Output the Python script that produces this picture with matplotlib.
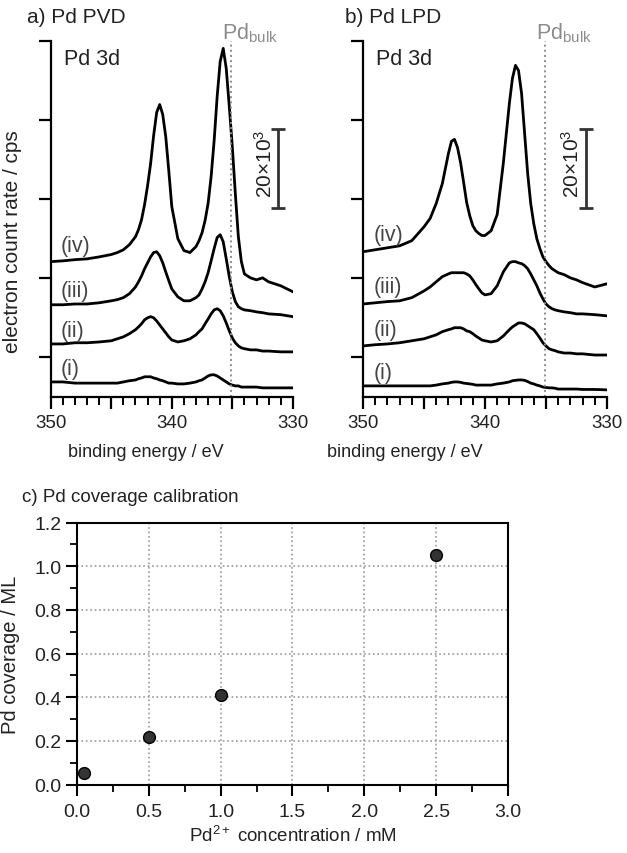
import matplotlib.pyplot as plt
from matplotlib.ticker import MultipleLocator, FuncFormatter, FormatStrFormatter

plt.rcParams['font.family'] = ['Liberation Sans', 'DejaVu Sans']
plt.rcParams['mathtext.fontset'] = 'custom'
plt.rcParams['mathtext.rm'] = 'Liberation Sans'
plt.rcParams['mathtext.it'] = 'Liberation Sans:italic'

c_text = "#222222"
c_label = "#444444"
c_bulk = "#8c8c8c"

# binding energy grid (eV) shared by all Pd 3d spectra
energy = [350, 349, 348, 347, 346, 345, 344.5, 344, 343.5, 343,
          342.75, 342.5, 342.25, 342, 341.75, 341.5, 341.25, 341, 340.75, 340.5, 340.25,
          340, 339.5, 339, 338.5, 338,
          337.75, 337.5, 337.25, 337, 336.75, 336.5, 336.25, 336, 335.75, 335.5, 335.25, 335,
          334.75, 334.5, 334.25,
          334, 333.5, 333, 332.5, 332, 331, 330]

# a) Pd PVD, electron count rate in 10^3 cps (curves offset as in the figure)
pvd_i = [3.8, 3.8, 3.5, 3.5, 3.5, 3.5, 3.5, 3.8, 4.1, 4.3,
         4.6, 4.8, 5.1, 5.1, 5.1, 4.8, 4.6, 4.3, 4.1, 3.8, 3.5,
         3.5, 3.3, 3.3, 3.5, 3.8,
         4.1, 4.3, 4.8, 5.3, 5.6, 5.6, 5.3, 4.8, 4.3, 3.8, 3.3, 3.0, 2.8, 2.8, 2.5,
         2.5, 2.5, 2.5, 2.3, 2.3, 2.3, 2.3]
pvd_ii = [13.4, 13.4, 13.7, 13.7, 13.9, 14.2, 14.7, 15.2, 16.0, 17.0,
          17.7, 18.5, 19.5, 20.0, 20.3, 20.0, 19.2, 18.2, 17.2, 16.2, 15.2,
          14.4, 13.9, 14.2, 14.7, 15.7,
          16.5, 17.2, 18.5, 19.7, 21.0, 22.0, 22.3, 21.8, 20.5, 18.7, 16.7, 14.9, 13.7, 12.9, 12.4,
          12.2, 11.9, 11.9, 11.6, 11.6, 11.4, 11.4]
pvd_iii = [23.3, 23.3, 23.5, 23.5, 23.8, 24.3, 24.6, 25.1, 26.1, 27.8,
           29.1, 30.6, 32.4, 33.9, 35.4, 36.5, 36.7, 35.7, 33.9, 31.6, 29.4,
           27.3, 25.3, 24.3, 24.3, 25.1,
           25.8, 27.3, 29.1, 31.4, 34.4, 37.5, 40.3, 41.0, 39.2, 34.9, 30.4, 26.6, 24.1, 22.8, 22.3,
           22.0, 21.8, 21.5, 21.3, 21.0, 20.8, 20.3]
pvd_iv = [34.2, 34.4, 34.7, 34.9, 35.4, 36.0, 36.5, 37.2, 38.5, 40.5,
          42.3, 44.8, 48.6, 53.4, 59.0, 66.1, 71.9, 73.9, 71.4, 65.8, 57.2,
          48.1, 40.0, 37.0, 36.5, 38.0,
          39.5, 41.5, 44.6, 48.9, 55.7, 64.8, 76.0, 84.8, 88.1, 83.0, 73.4, 63.3, 51.4, 40.5, 34.2,
          31.1, 30.1, 29.6, 30.1, 29.1, 28.1, 26.6]

# b) Pd LPD
lpd_i = [2.8, 2.8, 2.8, 2.8, 2.8, 2.8, 2.8, 3.0, 3.3, 3.5,
         3.7, 3.8, 3.8, 3.7, 3.5, 3.4, 3.3, 3.2, 3.0, 3.0, 3.0,
         3.0, 3.0, 3.3, 3.5, 3.8,
         4.1, 4.2, 4.3, 4.3, 4.2, 3.9, 3.5, 3.3, 3.0, 2.8, 2.5, 2.4, 2.3, 2.3, 2.2,
         2.0, 2.0, 2.0, 2.0, 1.9, 1.9, 1.8]
lpd_ii = [12.9, 13.2, 13.4, 13.7, 14.2, 14.7, 15.2, 15.7, 16.5, 17.0,
          17.2, 17.5, 17.5, 17.5, 17.2, 16.7, 16.5, 16.0, 15.4, 14.9, 14.4,
          14.2, 13.9, 14.2, 15.4, 17.0,
          17.7, 18.2, 18.7, 18.7, 18.5, 18.0, 17.5, 17.0, 16.0, 14.9, 13.7, 12.9, 12.2, 11.9, 11.7,
          11.4, 11.1, 11.1, 10.9, 10.9, 10.6, 10.6]
lpd_iii = [23.5, 23.8, 24.1, 24.3, 25.1, 26.8, 27.8, 29.1, 30.4, 31.1,
           31.4, 31.4, 31.4, 31.4, 31.4, 31.1, 30.6, 29.6, 28.4, 27.3, 26.3,
           25.8, 26.1, 28.1, 31.6, 33.9,
           34.2, 34.2, 33.9, 33.7, 33.2, 32.4, 31.1, 29.6, 28.1, 26.3, 24.8, 23.5, 22.8, 22.3, 22.0,
           21.8, 21.5, 21.3, 21.0, 21.0, 20.8, 20.5]
lpd_iv = [36.7, 37.2, 37.7, 38.2, 39.5, 43.0, 45.1, 48.9, 53.9, 61.5,
          64.6, 65.1, 63.0, 59.2, 54.2, 49.1, 45.8, 43.3, 42.0, 41.3, 40.8,
          40.8, 42.0, 46.1, 59.0, 74.2,
          80.5, 83.8, 82.5, 76.7, 66.6, 56.5, 48.9, 43.8, 40.0, 37.5, 35.4, 34.2, 33.2, 32.4, 31.9,
          31.4, 30.9, 30.1, 29.6, 28.9, 27.8, 28.6]

curve_names = ["(i)", "(ii)", "(iii)", "(iv)"]
pd_bulk = 335.1
scale_bar = 20  # 20x10^3 cps

# c) coverage calibration
conc = [0.05, 0.5, 1.0, 2.5]
coverage = [0.055, 0.22, 0.41, 1.05]


fig = plt.figure(figsize=(6.27, 8.54), dpi=100)
ax_a = fig.add_axes([0.081, 0.534, 0.386, 0.417])
ax_b = fig.add_axes([0.579, 0.534, 0.389, 0.417])
ax_c = fig.add_axes([0.123, 0.080, 0.687, 0.307])


def spectrum_axes(ax, curves, label_y, bar_x, xlabel_x):
    for vals in curves:
        ax.plot(energy, vals, color="black", lw=2.0, solid_joinstyle="round")
    ax.set_xlim(350, 330)
    ax.set_ylim(0, 90)
    for s in ("top", "right"):
        ax.spines[s].set_visible(False)
    for s in ("left", "bottom"):
        ax.spines[s].set_linewidth(1.6)
    ax.xaxis.set_major_locator(MultipleLocator(5))
    ax.xaxis.set_minor_locator(MultipleLocator(1))
    ax.xaxis.set_major_formatter(FuncFormatter(lambda v, p: f"{v:.0f}" if round(v) % 10 == 0 else ""))
    ax.set_yticks([10, 30, 50, 70, 90])
    ax.set_yticklabels([])
    ax.tick_params(which="major", direction="out", length=8.5, width=1.6,
                   labelsize=13.5, labelcolor=c_text, pad=4)
    ax.tick_params(which="minor", direction="out", length=6, width=1.4)
    ax.axvline(pd_bulk, color=c_bulk, ls=":", lw=1.4)
    ax.text(335.85, 1.025, r"Pd$_{\mathrm{bulk}}$", transform=ax.get_xaxis_transform(),
            color=c_bulk, fontsize=15.5, ha="left", va="center")
    ax.text(348.9, 85.6, "Pd 3d", color=c_text, fontsize=15.5, ha="left", va="center")
    for name, y in zip(curve_names, label_y):
        ax.text(349.15, y, name, color=c_label, fontsize=15.5, ha="left", va="center")
    ax.errorbar(bar_x, 47.8 + scale_bar / 2, yerr=scale_bar / 2, color="#333333",
                lw=2.0, capsize=5, capthick=2.0)
    ax.text(bar_x + 1.15, 59.2, r"20×10$^3$", rotation=90, color=c_text, fontsize=15,
            ha="center", va="center")
    ax.set_xlabel("binding energy / eV", fontsize=13, color=c_text)
    ax.xaxis.set_label_coords(xlabel_x, -0.128)


spectrum_axes(ax_a, [pvd_i, pvd_ii, pvd_iii, pvd_iv], [7.3, 16.7, 26.8, 38.2], 331.2, 0.393)
spectrum_axes(ax_b, [lpd_i, lpd_ii, lpd_iii, lpd_iv], [6.3, 17.0, 27.8, 41.0], 331.7, 0.172)

ax_a.set_ylabel("electron count rate / cps", fontsize=15, color=c_text)
ax_a.yaxis.set_label_coords(-0.12, 0.438)

fig.text(0.043, 0.980, "a) Pd PVD", fontsize=15, color=c_text, va="center")
fig.text(0.550, 0.980, "b) Pd LPD", fontsize=15, color=c_text, va="center")
fig.text(0.035, 0.417, "c) Pd coverage calibration", fontsize=13.5, color=c_text, va="center")

# c) calibration
ax_c.plot(conc, coverage, "o", ms=8.5, mfc="#333333", mec="black", mew=1.0, zorder=5)
ax_c.set_xlim(0, 3)
ax_c.set_ylim(0, 1.2)
ax_c.xaxis.set_major_locator(MultipleLocator(0.5))
ax_c.xaxis.set_minor_locator(MultipleLocator(0.25))
ax_c.yaxis.set_major_locator(MultipleLocator(0.2))
ax_c.yaxis.set_minor_locator(MultipleLocator(0.1))
ax_c.xaxis.set_major_formatter(FormatStrFormatter("%.1f"))
ax_c.yaxis.set_major_formatter(FormatStrFormatter("%.1f"))
ax_c.grid(True, which="major", ls=":", color="#9a9a9a", lw=1.2)
for s in ax_c.spines.values():
    s.set_linewidth(1.5)
ax_c.tick_params(which="major", direction="out", length=8, width=1.5,
                 labelsize=14, labelcolor=c_text, pad=3)
ax_c.tick_params(axis="x", which="major", pad=5)
ax_c.tick_params(which="minor", direction="out", length=5, width=1.3)
ax_c.set_xlabel(r"Pd$^{\mathrm{2+}}$ concentration / mM", fontsize=13.5, color=c_text)
ax_c.xaxis.set_label_coords(0.5, -0.155)
ax_c.set_ylabel("Pd coverage / ML", fontsize=14.5, color=c_text)
ax_c.yaxis.set_label_coords(-0.132, 0.5)

fig.savefig("out.png", dpi=100)
